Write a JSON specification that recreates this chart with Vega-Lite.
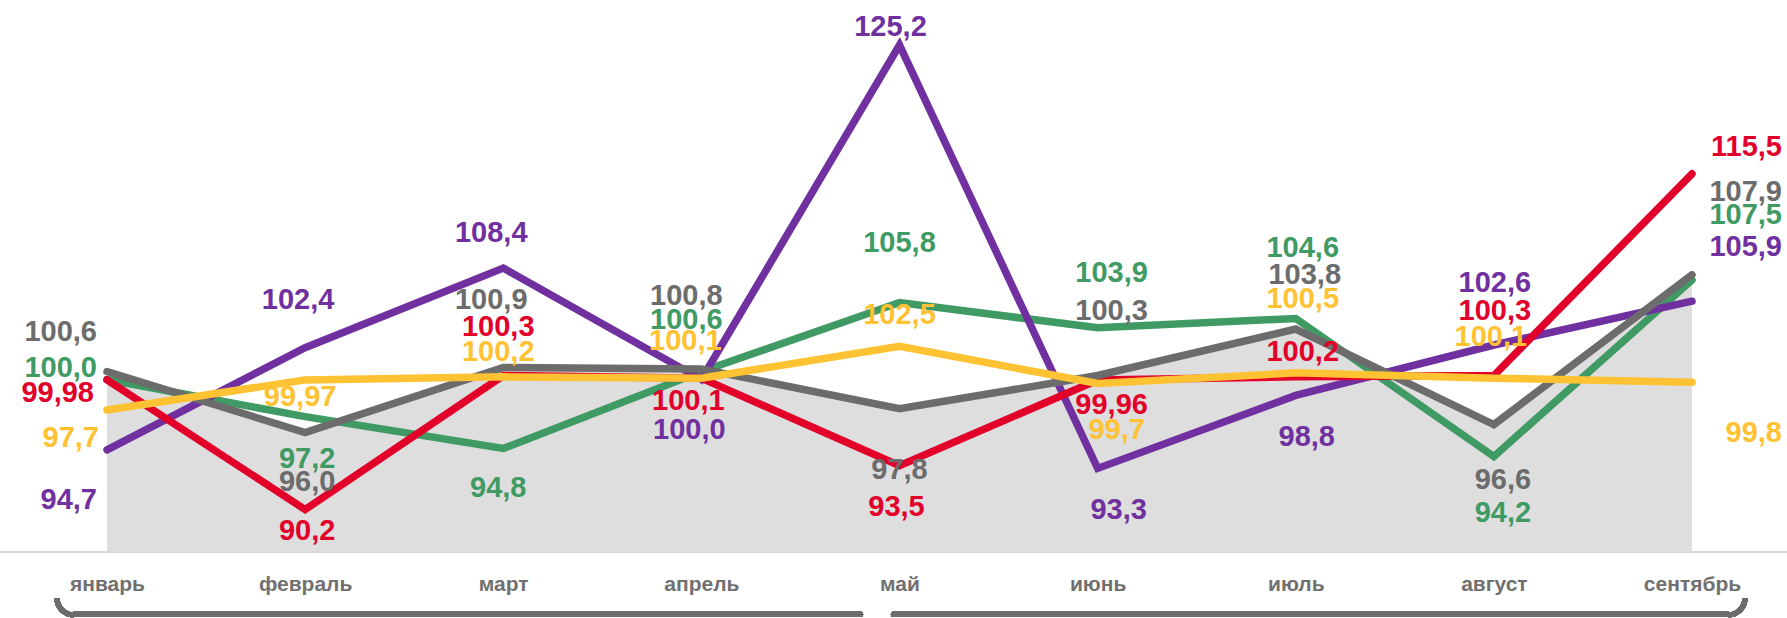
{
  "$schema": "https://vega.github.io/schema/vega-lite/v6.json",
  "width": 1787,
  "height": 552,
  "autosize": {"type": "none"},
  "padding": {"left": 0, "top": 0, "right": 0, "bottom": 66},
  "background": "white",
  "config": {
    "view": {"stroke": null},
    "font": "Liberation Sans",
    "text": {"font": "Liberation Sans", "fontWeight": "bold", "fontSize": 29, "baseline": "middle", "align": "center"}
  },
  "data": {"values": [
    {"month": "январь", "series": "red", "value": 99.98},
    {"month": "февраль", "series": "red", "value": 90.2},
    {"month": "март", "series": "red", "value": 100.3},
    {"month": "апрель", "series": "red", "value": 100.1},
    {"month": "май", "series": "red", "value": 93.5},
    {"month": "июнь", "series": "red", "value": 99.96},
    {"month": "июль", "series": "red", "value": 100.2},
    {"month": "август", "series": "red", "value": 100.3},
    {"month": "сентябрь", "series": "red", "value": 115.5},
    {"month": "январь", "series": "green", "value": 100.0},
    {"month": "февраль", "series": "green", "value": 97.2},
    {"month": "март", "series": "green", "value": 94.8},
    {"month": "апрель", "series": "green", "value": 100.6},
    {"month": "май", "series": "green", "value": 105.8},
    {"month": "июнь", "series": "green", "value": 103.9},
    {"month": "июль", "series": "green", "value": 104.6},
    {"month": "август", "series": "green", "value": 94.2},
    {"month": "сентябрь", "series": "green", "value": 107.5},
    {"month": "январь", "series": "gray", "value": 100.6},
    {"month": "февраль", "series": "gray", "value": 96.0},
    {"month": "март", "series": "gray", "value": 100.9},
    {"month": "апрель", "series": "gray", "value": 100.8},
    {"month": "май", "series": "gray", "value": 97.8},
    {"month": "июнь", "series": "gray", "value": 100.3},
    {"month": "июль", "series": "gray", "value": 103.8},
    {"month": "август", "series": "gray", "value": 96.6},
    {"month": "сентябрь", "series": "gray", "value": 107.9},
    {"month": "январь", "series": "purple", "value": 94.7},
    {"month": "февраль", "series": "purple", "value": 102.4},
    {"month": "март", "series": "purple", "value": 108.4},
    {"month": "апрель", "series": "purple", "value": 100.0},
    {"month": "май", "series": "purple", "value": 125.2},
    {"month": "июнь", "series": "purple", "value": 93.3},
    {"month": "июль", "series": "purple", "value": 98.8},
    {"month": "август", "series": "purple", "value": 102.6},
    {"month": "сентябрь", "series": "purple", "value": 105.9},
    {"month": "январь", "series": "yellow", "value": 97.7},
    {"month": "февраль", "series": "yellow", "value": 99.97},
    {"month": "март", "series": "yellow", "value": 100.2},
    {"month": "апрель", "series": "yellow", "value": 100.1},
    {"month": "май", "series": "yellow", "value": 102.5},
    {"month": "июнь", "series": "yellow", "value": 99.7},
    {"month": "июль", "series": "yellow", "value": 100.5},
    {"month": "август", "series": "yellow", "value": 100.1},
    {"month": "сентябрь", "series": "yellow", "value": 99.8}
  ]},
  "encoding": {
    "x": {"field": "month", "type": "ordinal", "sort": null,
      "scale": {"type": "point", "padding": 0, "domain": ["январь", "февраль", "март", "апрель", "май", "июнь", "июль", "август", "сентябрь"], "range": [107, 1692]},
      "axis": {"title": null, "domain": false, "ticks": false, "tickSize": 0, "grid": false, "labelAngle": 0,
        "labelFont": "Liberation Sans", "labelFontWeight": "bold", "labelFontSize": 21, "labelColor": "#707070",
        "labelBaseline": "alphabetic", "labelPadding": 38}},
    "y": {"field": "value", "type": "quantitative", "scale": {"domain": [87, 128.6], "zero": false, "nice": false}, "axis": null},
    "color": {"field": "series", "type": "nominal", "legend": null,
      "scale": {"domain": ["red", "green", "gray", "purple", "yellow"], "range": ["#e2002b", "#409a64", "#6c6c6c", "#7030a0", "#ffc232"]}}
  },
  "layer": [
    {"transform": [{"filter": "datum.series=='gray'"}], "mark": {"type": "area", "line": false}, "encoding": {"y2": {"datum": 87}, "color": {"value": "#dedede"}}},
    {"mark": {"type": "rule", "strokeWidth": 2}, "encoding": {"x": null, "y": {"datum": 87}, "color": {"value": "#d9d9d9"}}},
    {"transform": [{"filter": "datum.series=='green'"}], "mark": {"type": "line", "strokeWidth": 7.5, "strokeCap": "round", "strokeJoin": "miter"}},
    {"transform": [{"filter": "datum.series=='purple'"}], "mark": {"type": "line", "strokeWidth": 7.5, "strokeCap": "round", "strokeJoin": "miter"}},
    {"transform": [{"filter": "datum.series=='red'"}], "mark": {"type": "line", "strokeWidth": 7.5, "strokeCap": "round", "strokeJoin": "miter"}},
    {"transform": [{"filter": "datum.series=='gray'"}], "mark": {"type": "line", "strokeWidth": 7.5, "strokeCap": "round", "strokeJoin": "miter"}},
    {"transform": [{"filter": "datum.series=='yellow'"}], "mark": {"type": "line", "strokeWidth": 7.5, "strokeCap": "round", "strokeJoin": "miter"}},
    {"mark": {"type": "rule", "strokeWidth": 5, "strokeCap": "round", "xOffset": -33, "x2Offset": -39},
     "encoding": {"x": {"datum": "январь"}, "x2": {"datum": "май"}, "y": {"datum": 82.3}, "color": {"value": "#6c6c6c"}}},
    {"mark": {"type": "rule", "strokeWidth": 5, "strokeCap": "round", "xOffset": -6, "x2Offset": 36},
     "encoding": {"x": {"datum": "май"}, "x2": {"datum": "сентябрь"}, "y": {"datum": 82.3}, "color": {"value": "#6c6c6c"}}},
    {"mark": {"type": "arc", "radius": 19.5, "radius2": 14.5, "theta": 3.14159, "theta2": 4.71239, "xOffset": -33},
     "encoding": {"x": {"datum": "январь"}, "y": {"datum": 83.53}, "color": {"value": "#6c6c6c"}}},
    {"mark": {"type": "arc", "radius": 19.5, "radius2": 14.5, "theta": 1.5708, "theta2": 3.14159, "xOffset": 36},
     "encoding": {"x": {"datum": "сентябрь"}, "y": {"datum": 83.53}, "color": {"value": "#6c6c6c"}}},
    {
      "transform": [{"calculate": "replace(format(datum.value, abs(datum.value*10-round(datum.value*10))<1e-6 ? '.1f' : '.2f'), '.', ',')", "as": "label"}],
      "encoding": {"text": {"field": "label", "type": "nominal"}},
      "layer": [
        {"transform": [{"filter": "datum.month=='январь'&&datum.series=='gray'"}], "mark": {"type": "text", "align": "right", "dx": -10, "dy": -40}},
        {"transform": [{"filter": "datum.month=='январь'&&datum.series=='green'"}], "mark": {"type": "text", "align": "right", "dx": -10, "dy": -12}},
        {"transform": [{"filter": "datum.month=='январь'&&datum.series=='red'"}], "mark": {"type": "text", "align": "right", "dx": -13, "dy": 13}},
        {"transform": [{"filter": "datum.month=='январь'&&datum.series=='yellow'"}], "mark": {"type": "text", "align": "right", "dx": -8, "dy": 28}},
        {"transform": [{"filter": "datum.month=='январь'&&datum.series=='purple'"}], "mark": {"type": "text", "align": "right", "dx": -10, "dy": 50}},

        {"transform": [{"filter": "datum.month=='февраль'&&datum.series=='purple'"}], "mark": {"type": "text", "dx": -7, "dy": -48}},
        {"transform": [{"filter": "datum.month=='февраль'&&datum.series=='yellow'"}], "mark": {"type": "text", "dx": -5, "dy": 17}},
        {"transform": [{"filter": "datum.month=='февраль'&&datum.series=='green'"}], "mark": {"type": "text", "dx": 2, "dy": 42}},
        {"transform": [{"filter": "datum.month=='февраль'&&datum.series=='gray'"}], "mark": {"type": "text", "dx": 2, "dy": 49}},
        {"transform": [{"filter": "datum.month=='февраль'&&datum.series=='red'"}], "mark": {"type": "text", "dx": 2, "dy": 21}},

        {"transform": [{"filter": "datum.month=='март'&&datum.series=='purple'"}], "mark": {"type": "text", "dx": -12, "dy": -35}},
        {"transform": [{"filter": "datum.month=='март'&&datum.series=='gray'"}], "mark": {"type": "text", "dx": -12, "dy": -68}},
        {"transform": [{"filter": "datum.month=='март'&&datum.series=='red'"}], "mark": {"type": "text", "dx": -5, "dy": -49}},
        {"transform": [{"filter": "datum.month=='март'&&datum.series=='yellow'"}], "mark": {"type": "text", "dx": -5, "dy": -25}},
        {"transform": [{"filter": "datum.month=='март'&&datum.series=='green'"}], "mark": {"type": "text", "dx": -5, "dy": 39}},

        {"transform": [{"filter": "datum.month=='апрель'&&datum.series=='gray'"}], "mark": {"type": "text", "dx": -15, "dy": -73}},
        {"transform": [{"filter": "datum.month=='апрель'&&datum.series=='green'"}], "mark": {"type": "text", "dx": -15, "dy": -52}},
        {"transform": [{"filter": "datum.month=='апрель'&&datum.series=='yellow'"}], "mark": {"type": "text", "dx": -16, "dy": -37}},
        {"transform": [{"filter": "datum.month=='апрель'&&datum.series=='red'"}], "mark": {"type": "text", "dx": -13, "dy": 23}},
        {"transform": [{"filter": "datum.month=='апрель'&&datum.series=='purple'"}], "mark": {"type": "text", "dx": -12, "dy": 50}},

        {"transform": [{"filter": "datum.month=='май'&&datum.series=='purple'"}], "mark": {"type": "text", "dx": -9, "dy": -18}},
        {"transform": [{"filter": "datum.month=='май'&&datum.series=='green'"}], "mark": {"type": "text", "dx": 0, "dy": -60}},
        {"transform": [{"filter": "datum.month=='май'&&datum.series=='yellow'"}], "mark": {"type": "text", "dx": 0, "dy": -31}},
        {"transform": [{"filter": "datum.month=='май'&&datum.series=='gray'"}], "mark": {"type": "text", "dx": 0, "dy": 61}},
        {"transform": [{"filter": "datum.month=='май'&&datum.series=='red'"}], "mark": {"type": "text", "dx": -3, "dy": 41}},

        {"transform": [{"filter": "datum.month=='июнь'&&datum.series=='green'"}], "mark": {"type": "text", "dx": 14, "dy": -55}},
        {"transform": [{"filter": "datum.month=='июнь'&&datum.series=='gray'"}], "mark": {"type": "text", "dx": 14, "dy": -65}},
        {"transform": [{"filter": "datum.month=='июнь'&&datum.series=='red'"}], "mark": {"type": "text", "dx": 14, "dy": 25}},
        {"transform": [{"filter": "datum.month=='июнь'&&datum.series=='yellow'"}], "mark": {"type": "text", "dx": 19, "dy": 47}},
        {"transform": [{"filter": "datum.month=='июнь'&&datum.series=='purple'"}], "mark": {"type": "text", "dx": 21, "dy": 42}},

        {"transform": [{"filter": "datum.month=='июль'&&datum.series=='green'"}], "mark": {"type": "text", "dx": 7, "dy": -70}},
        {"transform": [{"filter": "datum.month=='июль'&&datum.series=='gray'"}], "mark": {"type": "text", "dx": 9, "dy": -54}},
        {"transform": [{"filter": "datum.month=='июль'&&datum.series=='yellow'"}], "mark": {"type": "text", "dx": 7, "dy": -74}},
        {"transform": [{"filter": "datum.month=='июль'&&datum.series=='red'"}], "mark": {"type": "text", "dx": 7, "dy": -25}},
        {"transform": [{"filter": "datum.month=='июль'&&datum.series=='purple'"}], "mark": {"type": "text", "dx": 11, "dy": 42}},

        {"transform": [{"filter": "datum.month=='август'&&datum.series=='purple'"}], "mark": {"type": "text", "dx": 1, "dy": -62}},
        {"transform": [{"filter": "datum.month=='август'&&datum.series=='red'"}], "mark": {"type": "text", "dx": 1, "dy": -65}},
        {"transform": [{"filter": "datum.month=='август'&&datum.series=='yellow'"}], "mark": {"type": "text", "dx": -3, "dy": -41}},
        {"transform": [{"filter": "datum.month=='август'&&datum.series=='gray'"}], "mark": {"type": "text", "dx": 9, "dy": 55}},
        {"transform": [{"filter": "datum.month=='август'&&datum.series=='green'"}], "mark": {"type": "text", "dx": 9, "dy": 57}},

        {"transform": [{"filter": "datum.month=='сентябрь'&&datum.series=='red'"}], "mark": {"type": "text", "align": "right", "dx": 90, "dy": -27}},
        {"transform": [{"filter": "datum.month=='сентябрь'&&datum.series=='gray'"}], "mark": {"type": "text", "align": "right", "dx": 90, "dy": -83}},
        {"transform": [{"filter": "datum.month=='сентябрь'&&datum.series=='green'"}], "mark": {"type": "text", "align": "right", "dx": 90, "dy": -65}},
        {"transform": [{"filter": "datum.month=='сентябрь'&&datum.series=='purple'"}], "mark": {"type": "text", "align": "right", "dx": 90, "dy": -54}},
        {"transform": [{"filter": "datum.month=='сентябрь'&&datum.series=='yellow'"}], "mark": {"type": "text", "align": "right", "dx": 90, "dy": 51}}
      ]
    }
  ]
}
